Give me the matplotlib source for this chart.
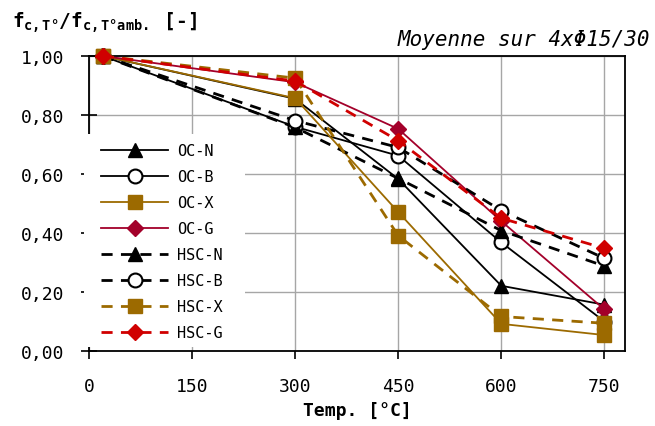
import matplotlib
matplotlib.use("Agg")
import matplotlib.pyplot as plt
from matplotlib.ticker import FuncFormatter, FixedLocator
from matplotlib.patches import Rectangle

temps = [20, 300, 450, 600, 750]
oc_n = [1.00, 0.855, 0.583, 0.221, 0.157]
oc_b = [1.00, 0.760, 0.662, 0.368, 0.100]
oc_x = [1.00, 0.857, 0.471, 0.092, 0.054]
oc_g = [1.00, 0.911, 0.753, 0.440, 0.141]
hsc_n = [1.00, 0.758, 0.585, 0.408, 0.288]
hsc_b = [1.00, 0.781, 0.690, 0.476, 0.314]
hsc_x = [1.00, 0.925, 0.391, 0.117, 0.094]
hsc_g = [1.00, 0.915, 0.713, 0.450, 0.348]

labels = ["OC-N", "OC-B", "OC-X", "OC-G", "HSC-N", "HSC-B", "HSC-X", "HSC-G"]
x_ticks = [0, 150, 300, 450, 600, 750]
y_ticks = [0.0, 0.2, 0.4, 0.6, 0.8, 1.0]

plt.rcParams['font.family'] = ['DejaVu Sans Mono']
plt.rcParams['mathtext.fontset'] = 'custom'
plt.rcParams['mathtext.rm'] = 'DejaVu Sans Mono:bold'
plt.rcParams['mathtext.it'] = 'DejaVu Sans Mono:bold'
plt.rcParams['mathtext.bf'] = 'DejaVu Sans Mono:bold'

BROWN = '#9C6A00'
DRED = '#A3002A'
RED = '#D00000'

fig = plt.figure(figsize=(6.55, 4.27), dpi=100)
W, H = 655, 427
ax = fig.add_axes([89 / W, 75 / H, (625 - 89) / W, (352 - 57) / H])

series = [oc_n, oc_b, oc_x, oc_g, hsc_n, hsc_b, hsc_x, hsc_g]
styles = [
    dict(color='black', ls='-', lw=1.3, marker='^', ms=10, mfc='black', mec='black'),
    dict(color='black', ls='-', lw=1.3, marker='o', ms=10, mfc='white', mec='black', mew=1.5),
    dict(color=BROWN, ls='-', lw=1.3, marker='s', ms=10, mfc=BROWN, mec=BROWN),
    dict(color=DRED, ls='-', lw=1.3, marker='D', ms=8, mfc=DRED, mec=DRED),
    dict(color='black', ls=(0, (4, 3)), lw=2.0, marker='^', ms=10, mfc='black', mec='black'),
    dict(color='black', ls=(0, (4, 3)), lw=2.0, marker='o', ms=10, mfc='white', mec='black', mew=1.5),
    dict(color=BROWN, ls=(0, (4, 3)), lw=2.0, marker='s', ms=10, mfc=BROWN, mec=BROWN),
    dict(color=RED, ls=(0, (4, 3)), lw=2.0, marker='D', ms=8, mfc=RED, mec=RED),
]
for vals, lab, st in zip(series, labels, styles):
    ax.plot(temps, vals, label=lab, clip_on=False, zorder=3, **st)

ax.set_xlim(0, 780)
ax.set_ylim(0, 1.0)
ax.xaxis.set_major_locator(FixedLocator(x_ticks))
ax.yaxis.set_major_locator(FixedLocator(y_ticks))
ax.yaxis.set_major_formatter(FuncFormatter(lambda v, p: f"{v:.2f}".replace('.', ',')))
ax.grid(True, color='#a6a6a6', lw=1.0, zorder=0)
ax.set_axisbelow(True)
ax.tick_params(axis='y', direction='inout', length=12, width=1.2, pad=12, labelsize=13)
ax.tick_params(axis='x', direction='out', length=6, width=1.2, pad=13, labelsize=13)
for s in ax.spines.values():
    s.set_linewidth(1.3)

ax.set_xlabel('Temp. [°C]', fontsize=13, fontweight='bold', labelpad=4)

fig.text(12 / W, 1 - 28 / H, r'$f_{c,T°}/f_{c,T°amb.}$ [-]', fontsize=14,
         fontweight='bold', ha='left', va='baseline')
fig.text(650 / W, 1 - 46 / H, 'Moyenne sur 4xΦ15/30', fontsize=15,
         style='italic', ha='right', va='baseline')

# white background behind the legend (hides spine and grid there)
bg = Rectangle((84 / W, 1 - 348 / H), (245 - 84) / W, (348 - 135) / H,
               transform=fig.transFigure, facecolor='white', edgecolor='none', zorder=5)
fig.patches.append(bg)

leg = fig.legend(loc='upper left', bbox_to_anchor=(98 / W, 1 - 141 / H),
                 fontsize=11, handlelength=4.4, labelspacing=0.72,
                 frameon=False, borderpad=0.2,
                 handletextpad=0.6, borderaxespad=0)
leg.set_zorder(10)

fig.savefig('out.png', dpi=100)
